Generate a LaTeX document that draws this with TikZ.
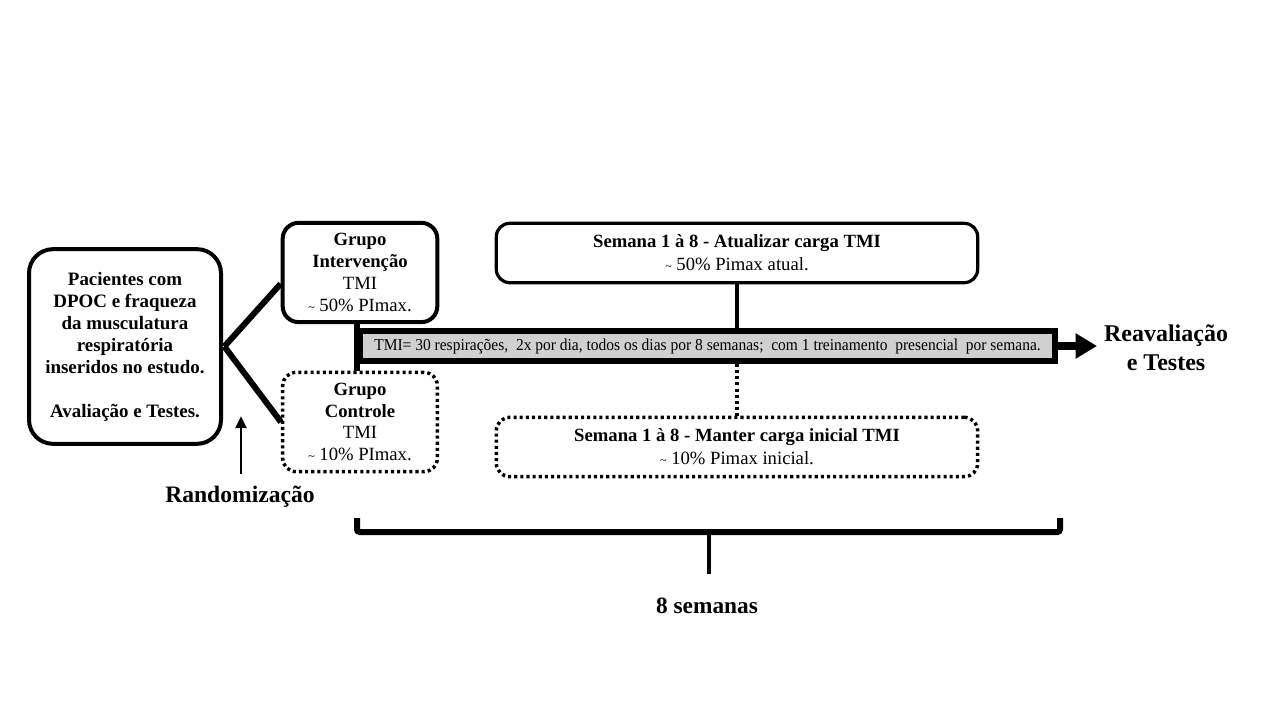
\documentclass[tikz,border=0pt]{standalone}
\usepackage{fontspec}
\setmainfont{Liberation Serif}
\usetikzlibrary{arrows.meta,calc}
\definecolor{bargray}{RGB}{208,208,208}
\begin{document}
\begin{tikzpicture}[x=0.75pt,y=-0.75pt,
  solidbox/.style={draw,line width=3pt,rounded corners=12pt,align=center,inner sep=0pt},
  dotbox/.style={draw,line width=2.6pt,dash pattern=on 2.3pt off 2.3pt,rounded corners=10pt,align=center,inner sep=0pt},
  conn/.style={line width=4.5pt},
  lbl/.style={align=center,font=\bfseries,inner sep=0pt}]
\useasboundingbox (0,0) rectangle (1280,720);
% left box
\node[solidbox,minimum width=144pt,minimum height=146pt,rounded corners=18pt,
  font=\fontsize{14.2}{16.5}\selectfont\bfseries] (left) at (125,346.5)
  {Pacientes com\\DPOC e fraqueza\\da musculatura\\respiratória\\inseridos no estudo.\\[16.5pt]Avaliação e Testes.};
% groups
\node[solidbox,minimum width=116pt,minimum height=74.5pt,font=\fontsize{14}{16.3}\selectfont] (interv) at (360,272.5)
  {\textbf{Grupo}\\\textbf{Intervenção}\\TMI\\{\small\textasciitilde} 50\% PImax.};
\node[dotbox,minimum width=116pt,minimum height=74.5pt,font=\fontsize{14}{16.3}\selectfont] (ctrl) at (360,422)
  {\textbf{Grupo}\\\textbf{Controle}\\TMI\\{\small\textasciitilde} 10\% PImax.};
% week boxes
\node[solidbox,line width=2.4pt,minimum width=361pt,minimum height=44.5pt,rounded corners=10pt,font=\fontsize{14}{17.25}\selectfont] (wtop) at (737,253)
  {\textbf{Semana 1 à 8 - Atualizar carga TMI}\\{\small\textasciitilde} 50\% Pimax atual.};
\node[dotbox,minimum width=361pt,minimum height=44.5pt,font=\fontsize{14}{17.25}\selectfont] (wbot) at (737,447)
  {\textbf{Semana 1 à 8 - Manter carga inicial TMI}\\{\small\textasciitilde} 10\% Pimax inicial.};
% bar
\node[draw,line width=4.5pt,fill=bargray,minimum width=521pt,minimum height=22.5pt,inner sep=0pt] (bar) at (707.5,346)
  {\scalebox{0.93}[1]{\fontsize{12.5}{14}\selectfont TMI= 30 respirações,\ \ 2x por dia, todos os dias por 8 semanas;\ \ com 1 treinamento\ \ presencial\ \ por semana.}};
% reassessment
\node[lbl,font=\fontsize{18}{21.75}\selectfont\bfseries] (reav) at (1166,348) {Reavaliação\\e Testes};
\coordinate (tip) at (1097,347);
\draw[line width=6pt,-{Triangle[length=16pt,width=18pt]}] (bar.east) -- (bar.east -| tip);
% randomization
\node[lbl,font=\fontsize{17.7}{20}\selectfont\bfseries] (rand) at (240,497) {Randomização};
\coordinate (rtip) at (241,416);
\draw[line width=2.2pt,-{Triangle[length=9pt,width=8pt]}] ([yshift=9pt]rand.north -| rtip) -- (rtip);
% branches
\draw[conn] ([xshift=1pt]left.east) -- ([yshift=-8.5pt]interv.west);
\draw[conn] ([xshift=1pt]left.east) -- (ctrl.west);
% vertical link of groups at bar's left edge
\draw[conn] (interv.south -| bar.west) -- (ctrl.north -| bar.west);
% week links
\draw[line width=2.3pt] (wtop.south) -- (wtop.south |- bar.north);
\draw[line width=2.6pt,dash pattern=on 2.3pt off 2.3pt] (wbot.north |- bar.south) -- (wbot.north);
% brace
\coordinate (bl) at (357,518);
\coordinate (br) at (1060,518);
\coordinate (bm) at (709,532);
\coordinate (bs) at (709,574);
\draw[line width=4.5pt,rounded corners=2pt] (bl) -- (bl |- bm) -- (br |- bm) -- (br);
\draw[line width=3.5pt] (bm) -- (bs);
\node[lbl,font=\fontsize{17.5}{20}\selectfont\bfseries] (weeks) at (707,606) {8 semanas};
\end{tikzpicture}
\end{document}
